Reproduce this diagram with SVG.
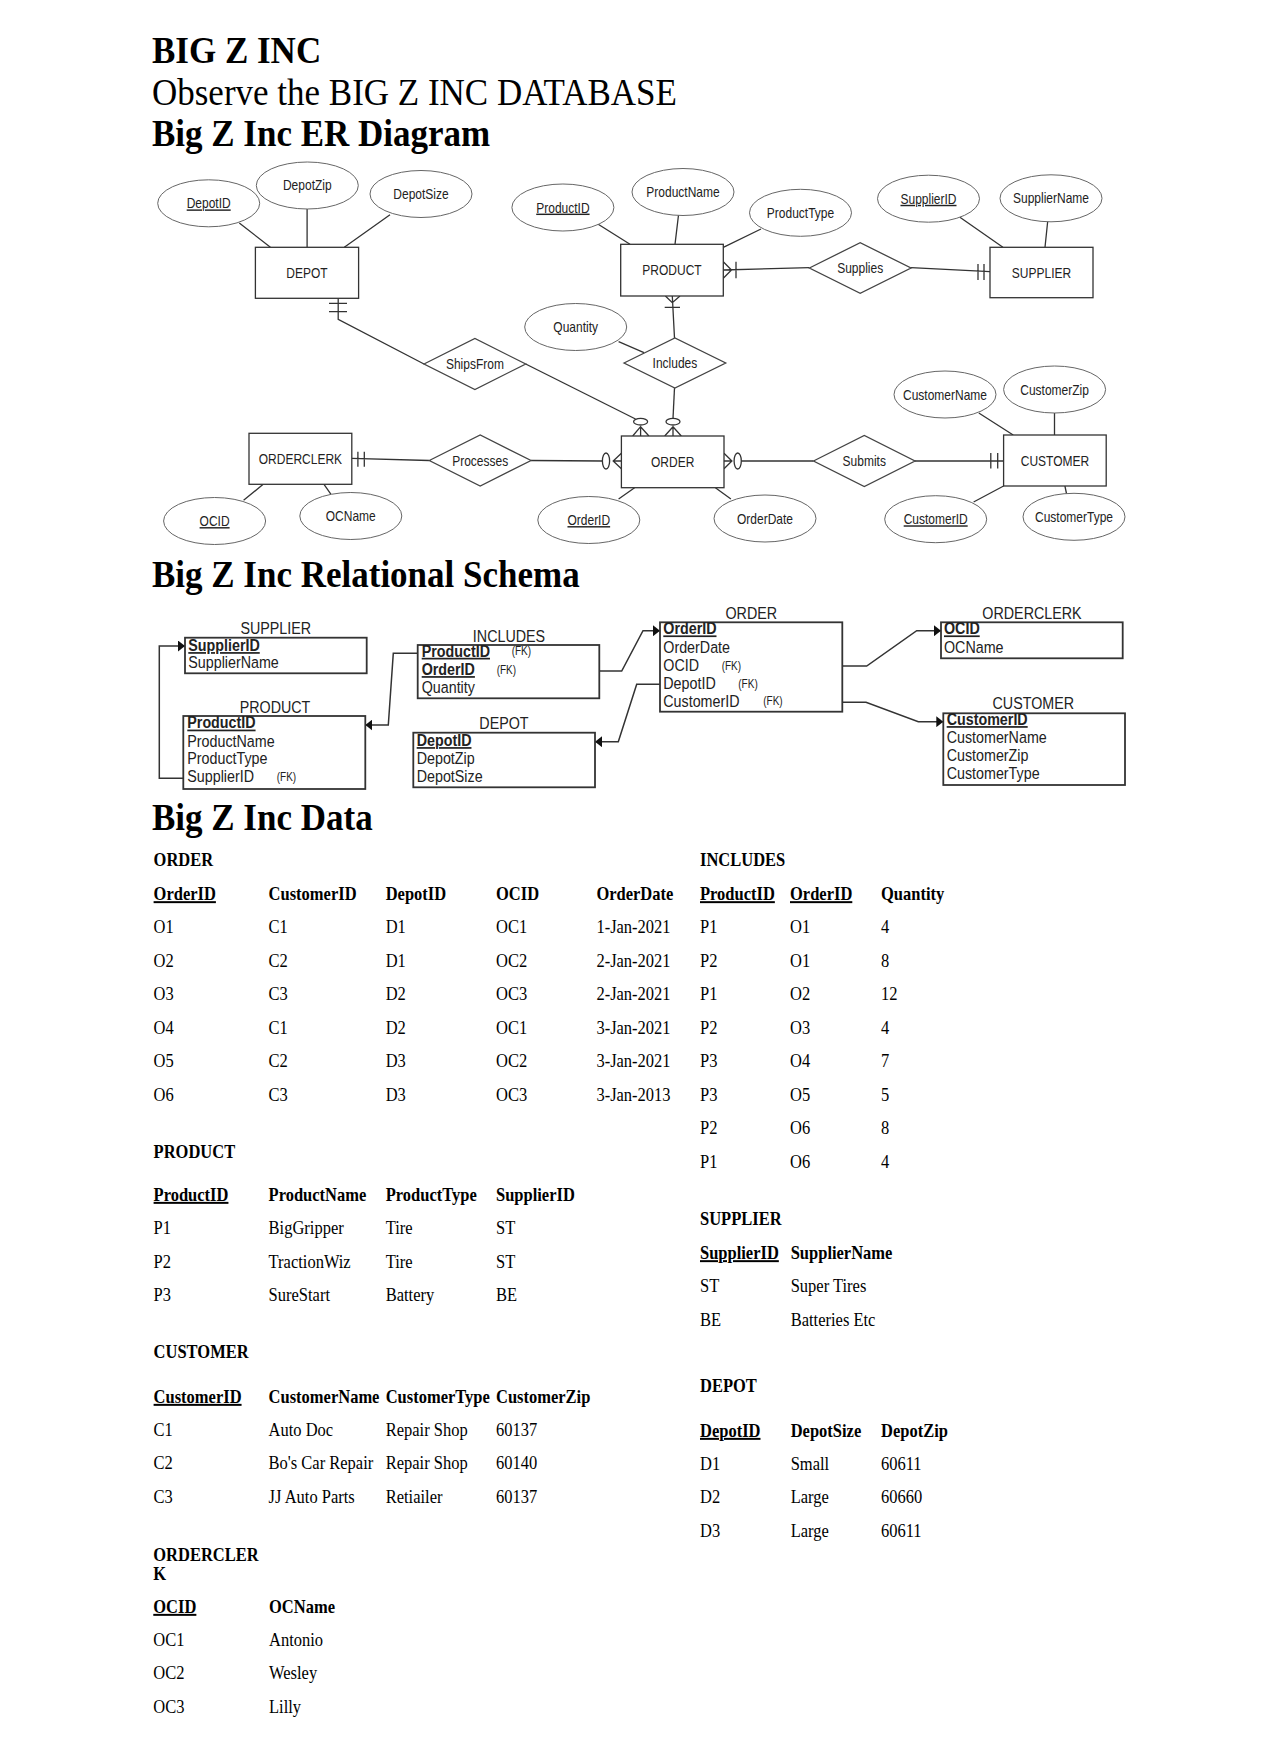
<svg xmlns="http://www.w3.org/2000/svg" width="1284" height="1758" viewBox="0 0 1284 1758">
<style>
text{transform-box:fill-box;transform-origin:50% 50%;transform:scaleY(1.2)}
.t{font-family:"Liberation Serif","Times New Roman",serif;font-size:35px;font-weight:bold;fill:#000;transform:scaleY(1.1)}
.tn{font-weight:normal}
.er{font-family:"Liberation Sans",Arial,sans-serif;font-size:12px;fill:#222;text-anchor:middle}
.u{text-decoration:underline}
.ent{fill:#fff;stroke:#333;stroke-width:1.3}
.att{fill:#fff;stroke:#666;stroke-width:1}
.rel{fill:#fff;stroke:#444;stroke-width:1.3}
.ln{stroke:#333;stroke-width:1.3;fill:none}
.rs{font-family:"Liberation Sans",Arial,sans-serif;font-size:14.3px;fill:#222}
.rt{text-anchor:middle}
.b{font-weight:bold}
.fk{font-size:10px}
.box{fill:#fff;stroke:#333;stroke-width:1.8}
.rl{stroke:#333;stroke-width:1.5;fill:none;marker-end:url(#ah)}
.d{font-family:"Liberation Serif","Times New Roman",serif;font-size:16.5px;fill:#000}
</style>
<defs>
<marker id="ah" viewBox="0 0 7 11" refX="7" refY="5.5" markerWidth="7" markerHeight="11" markerUnits="userSpaceOnUse" orient="auto"><path d="M0,0 L7,5.5 L0,11 z" fill="#111"/></marker>
</defs>
<rect width="1284" height="1758" fill="#fff"/>

<g id="titles">
<text class="t" x="152" y="62">BIG Z INC</text>
<text class="t tn" x="152" y="104">Observe the BIG Z INC DATABASE</text>
<text class="t" x="152" y="145">Big Z Inc ER Diagram</text>
<text class="t" x="152" y="586">Big Z Inc Relational Schema</text>
<text class="t" x="152" y="829">Big Z Inc Data</text>
</g>

<!-- ER DIAGRAM -->
<g id="er-connectors">
<path class="ln" d="M239.3,223 L270.4,247.3 M307.1,208.5 V247.3 M390,214.7 L344.3,247.3"/>
<path class="ln" d="M597,223.5 L630,244.3 M678.5,215 L675,244.3 M761,229 L723.3,247.3"/>
<path class="ln" d="M959.9,217.3 L1002.9,247.3 M1047.7,221.3 L1045,247.3"/>
<path class="ln" d="M338.2,298.3 V319.3 L424,364 M329,303.3 H347 M329,311.7 H347"/>
<path class="ln" d="M525.7,364 L635.5,419"/>
<ellipse class="ln" cx="640.6" cy="421.7" rx="7" ry="3.3"/>
<path class="ln" d="M632.7,436 L640.6,426.7 L648.9,436 M640.6,426.7 V436"/>
<path class="ln" d="M674.5,388 L673,418.4"/>
<ellipse class="ln" cx="673" cy="421.7" rx="7" ry="3.3"/>
<path class="ln" d="M664.7,436 L673,426.7 L681.3,436 M673,426.7 V436"/>
<path class="ln" d="M672.3,296 L674.5,338 M665.4,296 L672.3,302.7 L680,296 M664.7,307.3 H680"/>
<path class="ln" d="M618.6,341.7 L644,352.7"/>
<path class="ln" d="M723.3,270 L809.4,267.7 M723.3,261.7 L731.5,270 L723.3,278.3 M736,261.7 V278.3"/>
<path class="ln" d="M911,267.7 L990,271.7 M978,264 V280 M984,264 V280"/>
<path class="ln" d="M351.8,458.3 L429.3,460.5 M357.9,451.7 V466.7 M364.3,451.7 V466.7"/>
<path class="ln" d="M531,460.5 L602.4,461 M621.4,453.3 L613.2,461 L621.4,468.7 M613.2,461 H621.4"/>
<ellipse class="ln" cx="606" cy="461" rx="3.6" ry="8"/>
<path class="ln" d="M724,453.3 L731.9,461 L724,468.7 M724,461 H731.9 M741.3,461 L813.5,461"/>
<ellipse class="ln" cx="737.7" cy="461" rx="3.6" ry="8"/>
<path class="ln" d="M915,461 L1003.6,461 M990.8,453 V468.5 M997.7,453 V468.5"/>
<path class="ln" d="M978.8,413 L1013.2,435 M1054.5,413 V435 M973.6,502 L1003.6,486 M1064.9,486 L1066.6,494"/>
<path class="ln" d="M618.6,499 L634.6,487.7 M715.4,487.7 L730.9,499"/>
<path class="ln" d="M243.6,500.3 L263.2,484.3 M324,484.3 L331,494.3"/>
</g>

<g id="er-depot"><rect class="ent" x="255.4" y="247.3" width="103.2" height="51"/><text class="er" x="307" y="277">DEPOT</text></g>
<g id="er-product"><rect class="ent" x="620.7" y="244.3" width="102.6" height="51.7"/><text class="er" x="672" y="274.4">PRODUCT</text></g>
<g id="er-supplier"><rect class="ent" x="990" y="247.3" width="103" height="50.4"/><text class="er" x="1041.5" y="276.7">SUPPLIER</text></g>
<g id="er-orderclerk"><rect class="ent" x="249" y="433.3" width="102.8" height="51"/><text class="er" x="300.4" y="463">ORDERCLERK</text></g>
<g id="er-order"><rect class="ent" x="621.4" y="436" width="102.6" height="51.7"/><text class="er" x="672.7" y="466">ORDER</text></g>
<g id="er-customer"><rect class="ent" x="1003.6" y="435" width="102.6" height="51"/><text class="er" x="1055" y="464.7">CUSTOMER</text></g>

<g id="er-depotid"><ellipse class="att" cx="208.7" cy="203.3" rx="51" ry="23.5"/><text class="er u" x="208.7" y="207.5">DepotID</text></g>
<g id="er-depotzip"><ellipse class="att" cx="307.3" cy="185.5" rx="51" ry="23.5"/><text class="er" x="307.3" y="189.7">DepotZip</text></g>
<g id="er-depotsize"><ellipse class="att" cx="421" cy="194" rx="51" ry="23.5"/><text class="er" x="421" y="198.2">DepotSize</text></g>
<g id="er-productid"><ellipse class="att" cx="562.9" cy="207.5" rx="51" ry="23.5"/><text class="er u" x="562.9" y="211.7">ProductID</text></g>
<g id="er-productname"><ellipse class="att" cx="683" cy="192" rx="51" ry="23.5"/><text class="er" x="683" y="196.2">ProductName</text></g>
<g id="er-producttype"><ellipse class="att" cx="800.5" cy="212.8" rx="51" ry="23.5"/><text class="er" x="800.5" y="217">ProductType</text></g>
<g id="er-supplierid"><ellipse class="att" cx="928.5" cy="198.7" rx="51" ry="23.5"/><text class="er u" x="928.5" y="202.9">SupplierID</text></g>
<g id="er-suppliername"><ellipse class="att" cx="1051" cy="198.3" rx="51" ry="23.5"/><text class="er" x="1051" y="202.5">SupplierName</text></g>
<g id="er-quantity"><ellipse class="att" cx="575.7" cy="327" rx="51" ry="23.5"/><text class="er" x="575.7" y="331.2">Quantity</text></g>
<g id="er-customername"><ellipse class="att" cx="945" cy="394.5" rx="51" ry="23.5"/><text class="er" x="945" y="398.7">CustomerName</text></g>
<g id="er-customerzip"><ellipse class="att" cx="1054.6" cy="389.5" rx="51" ry="23.5"/><text class="er" x="1054.6" y="393.7">CustomerZip</text></g>
<g id="er-ocid"><ellipse class="att" cx="214.6" cy="521" rx="51" ry="23.5"/><text class="er u" x="214.6" y="525.2">OCID</text></g>
<g id="er-ocname"><ellipse class="att" cx="350.8" cy="516" rx="51" ry="23.5"/><text class="er" x="350.8" y="520.2">OCName</text></g>
<g id="er-orderid"><ellipse class="att" cx="588.8" cy="520" rx="51" ry="23.5"/><text class="er u" x="588.8" y="524.2">OrderID</text></g>
<g id="er-orderdate"><ellipse class="att" cx="765" cy="518.5" rx="51" ry="23.5"/><text class="er" x="765" y="522.7">OrderDate</text></g>
<g id="er-customerid"><ellipse class="att" cx="935.7" cy="519.2" rx="51" ry="23.5"/><text class="er u" x="935.7" y="523.4">CustomerID</text></g>
<g id="er-customertype"><ellipse class="att" cx="1074" cy="516.8" rx="51" ry="23.5"/><text class="er" x="1074" y="521">CustomerType</text></g>

<g id="er-shipsfrom"><path class="rel" d="M424,364 L474.9,338.5 L525.7,364 L474.9,389.5 Z"/><text class="er" x="474.9" y="368.2">ShipsFrom</text></g>
<g id="er-includes"><path class="rel" d="M624,363 L674.9,338 L725.7,363 L674.9,388 Z"/><text class="er" x="674.9" y="367.2">Includes</text></g>
<g id="er-supplies"><path class="rel" d="M809.4,268 L860.2,242.7 L911,268 L860.2,293.3 Z"/><text class="er" x="860.2" y="272.2">Supplies</text></g>
<g id="er-processes"><path class="rel" d="M429.3,460.5 L480.2,435 L531,460.5 L480.2,486 Z"/><text class="er" x="480.2" y="464.7">Processes</text></g>
<g id="er-submits"><path class="rel" d="M813.5,461 L864.3,435.5 L915,461 L864.3,486.5 Z"/><text class="er" x="864.3" y="465.2">Submits</text></g>

<!-- RELATIONAL SCHEMA -->
<g id="rel-connectors">
<path class="rl" d="M183.3,778.3 H159.3 V646 H185"/>
<path class="rl" d="M417.7,653.3 H393.3 L388.3,725 H365.3"/>
<path class="rl" d="M599.3,671 H621.7 L643,630.7 H660"/>
<path class="rl" d="M660,684.3 H636.7 L618.3,741.7 H595"/>
<path class="rl" d="M842.3,666 H866.7 L916.7,630.7 H941"/>
<path class="rl" d="M842.3,702.3 H866 L918.3,721.7 H943.3"/>
</g>
<g id="rel-supplier" class="rs">
<text class="rt" x="275.8" y="633">SUPPLIER</text>
<rect class="box" x="185" y="637.7" width="181.7" height="35.6"/>
<text class="b u" x="188.3" y="650">SupplierID</text>
<text x="188.3" y="667">SupplierName</text>
</g>
<g id="rel-product" class="rs">
<text class="rt" x="275" y="712">PRODUCT</text>
<rect class="box" x="183.3" y="716" width="182" height="73"/>
<text class="b u" x="187.3" y="727.5">ProductID</text>
<text x="187.3" y="745.7">ProductName</text>
<text x="187.3" y="763">ProductType</text>
<text x="187.3" y="781.3">SupplierID</text>
<text class="fk" x="276.7" y="780.5">(FK)</text>
</g>
<g id="rel-includes" class="rs">
<text class="rt" x="509" y="641">INCLUDES</text>
<rect class="box" x="417.7" y="645" width="181.6" height="53.3"/>
<text class="b u" x="421.7" y="655.7">ProductID</text>
<text class="fk" x="511.7" y="654.5">(FK)</text>
<text class="b u" x="421.7" y="674">OrderID</text>
<text class="fk" x="496.7" y="673">(FK)</text>
<text x="421.7" y="691.7">Quantity</text>
</g>
<g id="rel-depot" class="rs">
<text class="rt" x="504" y="728">DEPOT</text>
<rect class="box" x="413.3" y="732.7" width="181.7" height="54.6"/>
<text class="b u" x="416.7" y="745">DepotID</text>
<text x="416.7" y="763">DepotZip</text>
<text x="416.7" y="780.7">DepotSize</text>
</g>
<g id="rel-order" class="rs">
<text class="rt" x="751.3" y="618">ORDER</text>
<rect class="box" x="660" y="622.3" width="182.3" height="89.4"/>
<text class="b u" x="663.3" y="633.3">OrderID</text>
<text x="663.3" y="651.7">OrderDate</text>
<text x="663.3" y="670">OCID</text>
<text class="fk" x="721.7" y="669">(FK)</text>
<text x="663.3" y="688">DepotID</text>
<text class="fk" x="738.3" y="687">(FK)</text>
<text x="663.3" y="705.7">CustomerID</text>
<text class="fk" x="763.3" y="704.7">(FK)</text>
</g>
<g id="rel-orderclerk" class="rs">
<text class="rt" x="1032" y="618">ORDERCLERK</text>
<rect class="box" x="941" y="622.3" width="181.7" height="36"/>
<text class="b u" x="944" y="633.3">OCID</text>
<text x="944" y="651.7">OCName</text>
</g>
<g id="rel-customer" class="rs">
<text class="rt" x="1033.3" y="708">CUSTOMER</text>
<rect class="box" x="943.3" y="713.3" width="181.7" height="71.7"/>
<text class="b u" x="946.7" y="724">CustomerID</text>
<text x="946.7" y="742.3">CustomerName</text>
<text x="946.7" y="760">CustomerZip</text>
<text x="946.7" y="778">CustomerType</text>
</g>

<!-- DATA -->
<g id="data-order" class="d">
<text class="b" x="153.6" y="865">ORDER</text>
<text class="b u" x="153.6" y="899">OrderID</text><text class="b" x="268.6" y="899">CustomerID</text><text class="b" x="385.7" y="899">DepotID</text><text class="b" x="496" y="899">OCID</text><text class="b" x="596.4" y="899">OrderDate</text>
<text x="153.6" y="932.3">O1</text><text x="268.6" y="932.3">C1</text><text x="385.7" y="932.3">D1</text><text x="496" y="932.3">OC1</text><text x="596.4" y="932.3">1-Jan-2021</text>
<text x="153.6" y="965.8">O2</text><text x="268.6" y="965.8">C2</text><text x="385.7" y="965.8">D1</text><text x="496" y="965.8">OC2</text><text x="596.4" y="965.8">2-Jan-2021</text>
<text x="153.6" y="999.3">O3</text><text x="268.6" y="999.3">C3</text><text x="385.7" y="999.3">D2</text><text x="496" y="999.3">OC3</text><text x="596.4" y="999.3">2-Jan-2021</text>
<text x="153.6" y="1032.8">O4</text><text x="268.6" y="1032.8">C1</text><text x="385.7" y="1032.8">D2</text><text x="496" y="1032.8">OC1</text><text x="596.4" y="1032.8">3-Jan-2021</text>
<text x="153.6" y="1066.3">O5</text><text x="268.6" y="1066.3">C2</text><text x="385.7" y="1066.3">D3</text><text x="496" y="1066.3">OC2</text><text x="596.4" y="1066.3">3-Jan-2021</text>
<text x="153.6" y="1099.8">O6</text><text x="268.6" y="1099.8">C3</text><text x="385.7" y="1099.8">D3</text><text x="496" y="1099.8">OC3</text><text x="596.4" y="1099.8">3-Jan-2013</text>
</g>
<g id="data-includes" class="d">
<text class="b" x="700" y="865">INCLUDES</text>
<text class="b u" x="700" y="899">ProductID</text><text class="b u" x="790" y="899">OrderID</text><text class="b" x="881" y="899">Quantity</text>
<text x="700" y="932.3">P1</text><text x="790" y="932.3">O1</text><text x="881" y="932.3">4</text>
<text x="700" y="965.8">P2</text><text x="790" y="965.8">O1</text><text x="881" y="965.8">8</text>
<text x="700" y="999.3">P1</text><text x="790" y="999.3">O2</text><text x="881" y="999.3">12</text>
<text x="700" y="1032.8">P2</text><text x="790" y="1032.8">O3</text><text x="881" y="1032.8">4</text>
<text x="700" y="1066.3">P3</text><text x="790" y="1066.3">O4</text><text x="881" y="1066.3">7</text>
<text x="700" y="1099.8">P3</text><text x="790" y="1099.8">O5</text><text x="881" y="1099.8">5</text>
<text x="700" y="1133.3">P2</text><text x="790" y="1133.3">O6</text><text x="881" y="1133.3">8</text>
<text x="700" y="1166.8">P1</text><text x="790" y="1166.8">O6</text><text x="881" y="1166.8">4</text>
</g>
<g id="data-product" class="d">
<text class="b" x="153.6" y="1156.7">PRODUCT</text>
<text class="b u" x="153.6" y="1199.7">ProductID</text><text class="b" x="268.6" y="1199.7">ProductName</text><text class="b" x="385.7" y="1199.7">ProductType</text><text class="b" x="496" y="1199.7">SupplierID</text>
<text x="153.6" y="1233.3">P1</text><text x="268.6" y="1233.3">BigGripper</text><text x="385.7" y="1233.3">Tire</text><text x="496" y="1233.3">ST</text>
<text x="153.6" y="1266.7">P2</text><text x="268.6" y="1266.7">TractionWiz</text><text x="385.7" y="1266.7">Tire</text><text x="496" y="1266.7">ST</text>
<text x="153.6" y="1300">P3</text><text x="268.6" y="1300">SureStart</text><text x="385.7" y="1300">Battery</text><text x="496" y="1300">BE</text>
</g>
<g id="data-supplier" class="d">
<text class="b" x="700" y="1224">SUPPLIER</text>
<text class="b u" x="700" y="1258">SupplierID</text><text class="b" x="790.7" y="1258">SupplierName</text>
<text x="700" y="1291.3">ST</text><text x="790.7" y="1291.3">Super Tires</text>
<text x="700" y="1324.7">BE</text><text x="790.7" y="1324.7">Batteries Etc</text>
</g>
<g id="data-customer" class="d">
<text class="b" x="153.6" y="1357.3">CUSTOMER</text>
<text class="b u" x="153.6" y="1401.7">CustomerID</text><text class="b" x="268.6" y="1401.7">CustomerName</text><text class="b" x="385.7" y="1401.7">CustomerType</text><text class="b" x="496" y="1401.7">CustomerZip</text>
<text x="153.6" y="1435">C1</text><text x="268.6" y="1435">Auto Doc</text><text x="385.7" y="1435">Repair Shop</text><text x="496" y="1435">60137</text>
<text x="153.6" y="1468.3">C2</text><text x="268.6" y="1468.3">Bo's Car Repair</text><text x="385.7" y="1468.3">Repair Shop</text><text x="496" y="1468.3">60140</text>
<text x="153.6" y="1501.7">C3</text><text x="268.6" y="1501.7">JJ Auto Parts</text><text x="385.7" y="1501.7">Retiailer</text><text x="496" y="1501.7">60137</text>
</g>
<g id="data-depot" class="d">
<text class="b" x="700" y="1391.3">DEPOT</text>
<text class="b u" x="700" y="1435.7">DepotID</text><text class="b" x="790.7" y="1435.7">DepotSize</text><text class="b" x="881" y="1435.7">DepotZip</text>
<text x="700" y="1469">D1</text><text x="790.7" y="1469">Small</text><text x="881" y="1469">60611</text>
<text x="700" y="1502.3">D2</text><text x="790.7" y="1502.3">Large</text><text x="881" y="1502.3">60660</text>
<text x="700" y="1535.7">D3</text><text x="790.7" y="1535.7">Large</text><text x="881" y="1535.7">60611</text>
</g>
<g id="data-orderclerk" class="d">
<text class="b" x="153.3" y="1559.7">ORDERCLER</text>
<text class="b" x="153.3" y="1578.5">K</text>
<text class="b u" x="153.3" y="1611.7">OCID</text><text class="b" x="269" y="1611.7">OCName</text>
<text x="153.3" y="1645">OC1</text><text x="269" y="1645">Antonio</text>
<text x="153.3" y="1678.3">OC2</text><text x="269" y="1678.3">Wesley</text>
<text x="153.3" y="1711.7">OC3</text><text x="269" y="1711.7">Lilly</text>
</g>
</svg>
